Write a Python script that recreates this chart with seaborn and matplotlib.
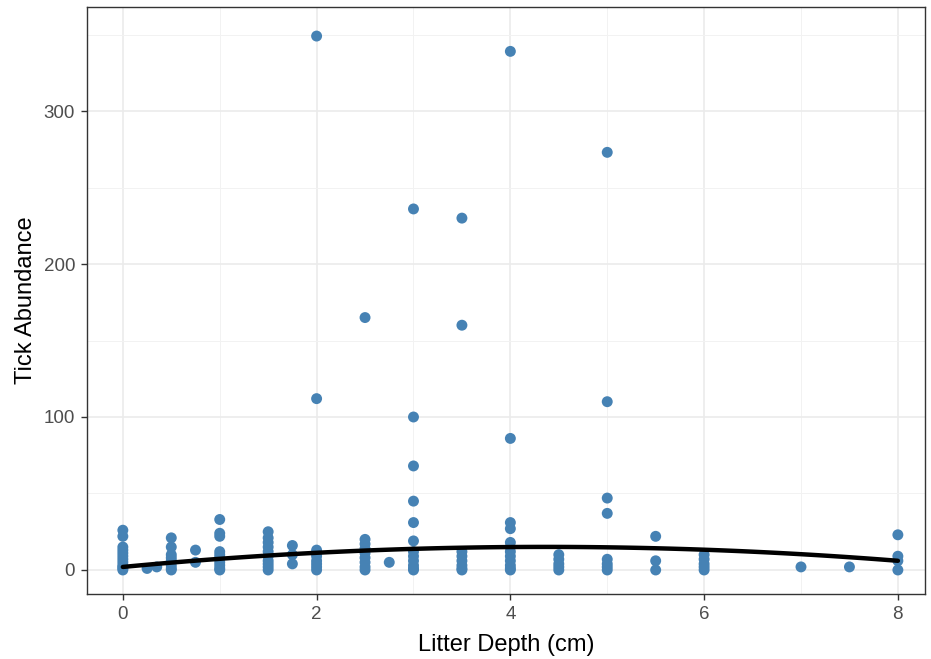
import numpy as np
import pandas as pd
import matplotlib
matplotlib.use("Agg")
import matplotlib.pyplot as plt
from matplotlib.ticker import MultipleLocator
import seaborn as sns

# ---- data ----
depth_0 = [26, 22, 15, 13, 11, 9, 7, 5, 3, 2, 1, 0]
depth_025 = [1]
depth_035 = [2]
depth_05 = [21, 15, 10, 8, 6, 3, 1, 0]
depth_075 = [13, 5]
depth_1 = [33, 24, 22, 12, 10, 8, 5, 3, 1, 0]
depth_15 = [25, 21, 18, 15, 12, 9, 6, 4, 2, 0]
depth_175 = [16, 10, 4]
depth_2 = [349, 112, 13, 11, 9, 6, 4, 2, 0]
depth_25 = [165, 20, 17, 14, 11, 8, 5, 2, 0]
depth_275 = [5]
depth_3 = [236, 100, 68, 45, 31, 19, 12, 9, 6, 3, 1, 0]
depth_35 = [230, 160, 12, 9, 6, 3, 1, 0]
depth_4 = [339, 86, 31, 27, 18, 15, 12, 9, 6, 3, 1, 0]
depth_45 = [10, 7, 4, 2, 0]
depth_5 = [273, 110, 47, 37, 7, 4, 2, 0]
depth_55 = [22, 6, 0]
depth_6 = [10, 7, 4, 2, 0]
depth_7 = [2]
depth_75 = [2]
depth_8 = [23, 9, 6, 0]

groups = [(0, depth_0), (0.25, depth_025), (0.35, depth_035), (0.5, depth_05),
          (0.75, depth_075), (1, depth_1), (1.5, depth_15), (1.75, depth_175),
          (2, depth_2), (2.5, depth_25), (2.75, depth_275), (3, depth_3),
          (3.5, depth_35), (4, depth_4), (4.5, depth_45), (5, depth_5),
          (5.5, depth_55), (6, depth_6), (7, depth_7), (7.5, depth_75), (8, depth_8)]

# fitted trend curve
fit_x = [0, 1, 2, 3, 4, 5, 6, 7, 8]
fit_y = [2, 7.3, 11.2, 13.8, 15, 14.8, 13.3, 10.3, 6]

x_ticks = [0, 2, 4, 6, 8]
y_ticks = [0, 100, 200, 300]

df = pd.DataFrame([(d, v) for d, vals in groups for v in vals],
                  columns=["Litter Depth (cm)", "Tick Abundance"])

sns.set_theme(style="white")
plt.rcParams['font.family'] = ['Liberation Sans', 'DejaVu Sans']

fig = plt.figure(figsize=(9.31, 6.59), dpi=100)
ax = fig.add_axes([87/931, 1-594/659, (925-87)/931, (594-7)/659])

sns.scatterplot(data=df, x="Litter Depth (cm)", y="Tick Abundance", ax=ax,
                color="#4682B4", s=62, edgecolor="none", zorder=3)
sns.regplot(x=fit_x, y=fit_y, order=2, ci=None, scatter=False, ax=ax,
            line_kws=dict(color="black", lw=3.2, zorder=4))

ax.set_xlim(-0.37, 8.28)
ax.set_ylim(-15.7, 368)
ax.set_xticks(x_ticks)
ax.set_yticks(y_ticks)
ax.xaxis.set_minor_locator(MultipleLocator(1))
ax.yaxis.set_minor_locator(MultipleLocator(50))
ax.grid(which="major", color="#EBEBEB", lw=1.2, zorder=0)
ax.grid(which="minor", color="#F2F2F2", lw=0.7, zorder=0)
ax.set_axisbelow(True)
for sp in ax.spines.values():
    sp.set_color("#333333")
    sp.set_linewidth(1.0)
    sp.set_visible(True)
ax.tick_params(which="major", length=4.3, width=1, color="#333333",
               labelsize=13.5, labelcolor="#4D4D4D", pad=4.3, bottom=True, left=True)
ax.tick_params(which="minor", length=0)
ax.set_xlabel("Litter Depth (cm)", fontsize=17, color="black", labelpad=8)
ax.set_ylabel("Tick Abundance", fontsize=17, color="black", labelpad=5)

fig.savefig("out.png", dpi=100)
